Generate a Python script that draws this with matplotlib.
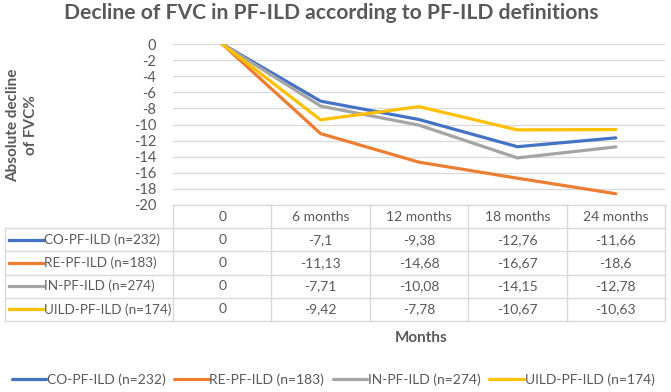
import matplotlib
matplotlib.use("Agg")
import matplotlib.pyplot as plt
import numpy as np

plt.rcParams["font.family"] = ["Lato", "DejaVu Sans"]

categories = ["0", "6 months", "12 months", "18 months", "24 months"]
series_names = ["CO-PF-ILD (n=232)", "RE-PF-ILD (n=183)", "IN-PF-ILD (n=274)", "UILD-PF-ILD (n=174)"]
co_pf_ild = [0, -7.1, -9.38, -12.76, -11.66]
re_pf_ild = [0, -11.13, -14.68, -16.67, -18.6]
in_pf_ild = [0, -7.71, -10.08, -14.15, -12.78]
uild_pf_ild = [0, -9.42, -7.78, -10.67, -10.63]
colors = ["#4472C4", "#ED7D31", "#A5A5A5", "#FFC000"]

series = [co_pf_ild, re_pf_ild, in_pf_ild, uild_pf_ild]
text_col = "#595959"
grid_col = "#d9d9d9"

W, H = 671, 392
fig = plt.figure(figsize=(W / 100, H / 100), dpi=100)


def fig_box(x0, y0, x1, y1):
    return [x0 / W, 1 - y1 / H, (x1 - x0) / W, (y1 - y0) / H]


# line chart
ax = fig.add_axes(fig_box(173, 44, 665, 205))
x = np.arange(len(categories))
for vals, c, name in zip(series, colors, series_names):
    ax.plot(x, vals, color=c, lw=2.3, label=name, solid_capstyle="round")
ax.set_xlim(-0.5, len(categories) - 0.5)
ax.set_ylim(-20, 0)
ax.set_yticks(np.arange(-20, 1, 2))
ax.set_yticklabels([str(v) for v in range(-20, 1, 2)])
ax.set_xticks([])
ax.tick_params(axis="y", length=0, pad=12, labelsize=10.5, labelcolor=text_col)
ax.grid(axis="y", color=grid_col, lw=0.9)
ax.set_axisbelow(True)
for s in ax.spines.values():
    s.set_visible(False)

fig.text(22 / W, 1 - 125 / H, "Absolute decline\nof FVC%", rotation=90, ha="center", va="center",
         fontsize=11, fontweight="bold", color=text_col, linespacing=1.3)
fig.text(331 / W, 1 - 13 / H, "Decline of FVC in PF-ILD according to PF-ILD definitions",
         ha="center", va="center", fontsize=15.2, fontweight="bold", color=text_col)

# data table
col_w = (665 - 173) / len(categories)
left = -0.5 - (173 - 5) / col_w
tab = fig.add_axes(fig_box(5, 205, 665, 321))
tab.set_xlim(left, len(categories) - 0.5)
tab.set_ylim(5, 0)
tab.axis("off")
n_rows = len(series) + 1
tab.plot([-0.5, len(categories) - 0.5], [0, 0], color=grid_col, lw=1, clip_on=False)
for r in range(1, n_rows + 1):
    tab.plot([left, len(categories) - 0.5], [r, r], color=grid_col, lw=1, clip_on=False)
tab.plot([left, left], [1, n_rows], color=grid_col, lw=1, clip_on=False)
for c in range(len(categories) + 1):
    tab.plot([c - 0.5, c - 0.5], [0, n_rows], color=grid_col, lw=1, clip_on=False)
for i, cat in enumerate(categories):
    tab.text(i, 0.5, cat, ha="center", va="center", fontsize=10, color=text_col)
for r, (vals, c, name) in enumerate(zip(series, colors, series_names), start=1):
    tab.plot([left + 0.04, left + 0.39], [r + 0.5, r + 0.5], color=c, lw=2.3, clip_on=False)
    tab.text(left + 0.40, r + 0.5, name, ha="left", va="center", fontsize=9.7, color=text_col)
    for i, v in enumerate(vals):
        tab.text(i, r + 0.5, f"{v:g}".replace(".", ","), ha="center", va="center",
                 fontsize=10, color=text_col)

fig.text(421 / W, 1 - 338 / H, "Months", ha="center", va="center", fontsize=11,
         fontweight="bold", color=text_col)

handles, labels = ax.get_legend_handles_labels()
leg = fig.legend(handles, labels, loc="center", bbox_to_anchor=(333 / W, 1 - 380 / H), ncol=4,
                 frameon=False, fontsize=10, handlelength=2.5, handletextpad=0.05,
                 columnspacing=0.6)
for t in leg.get_texts():
    t.set_color(text_col)

fig.savefig("out.png", dpi=100)
